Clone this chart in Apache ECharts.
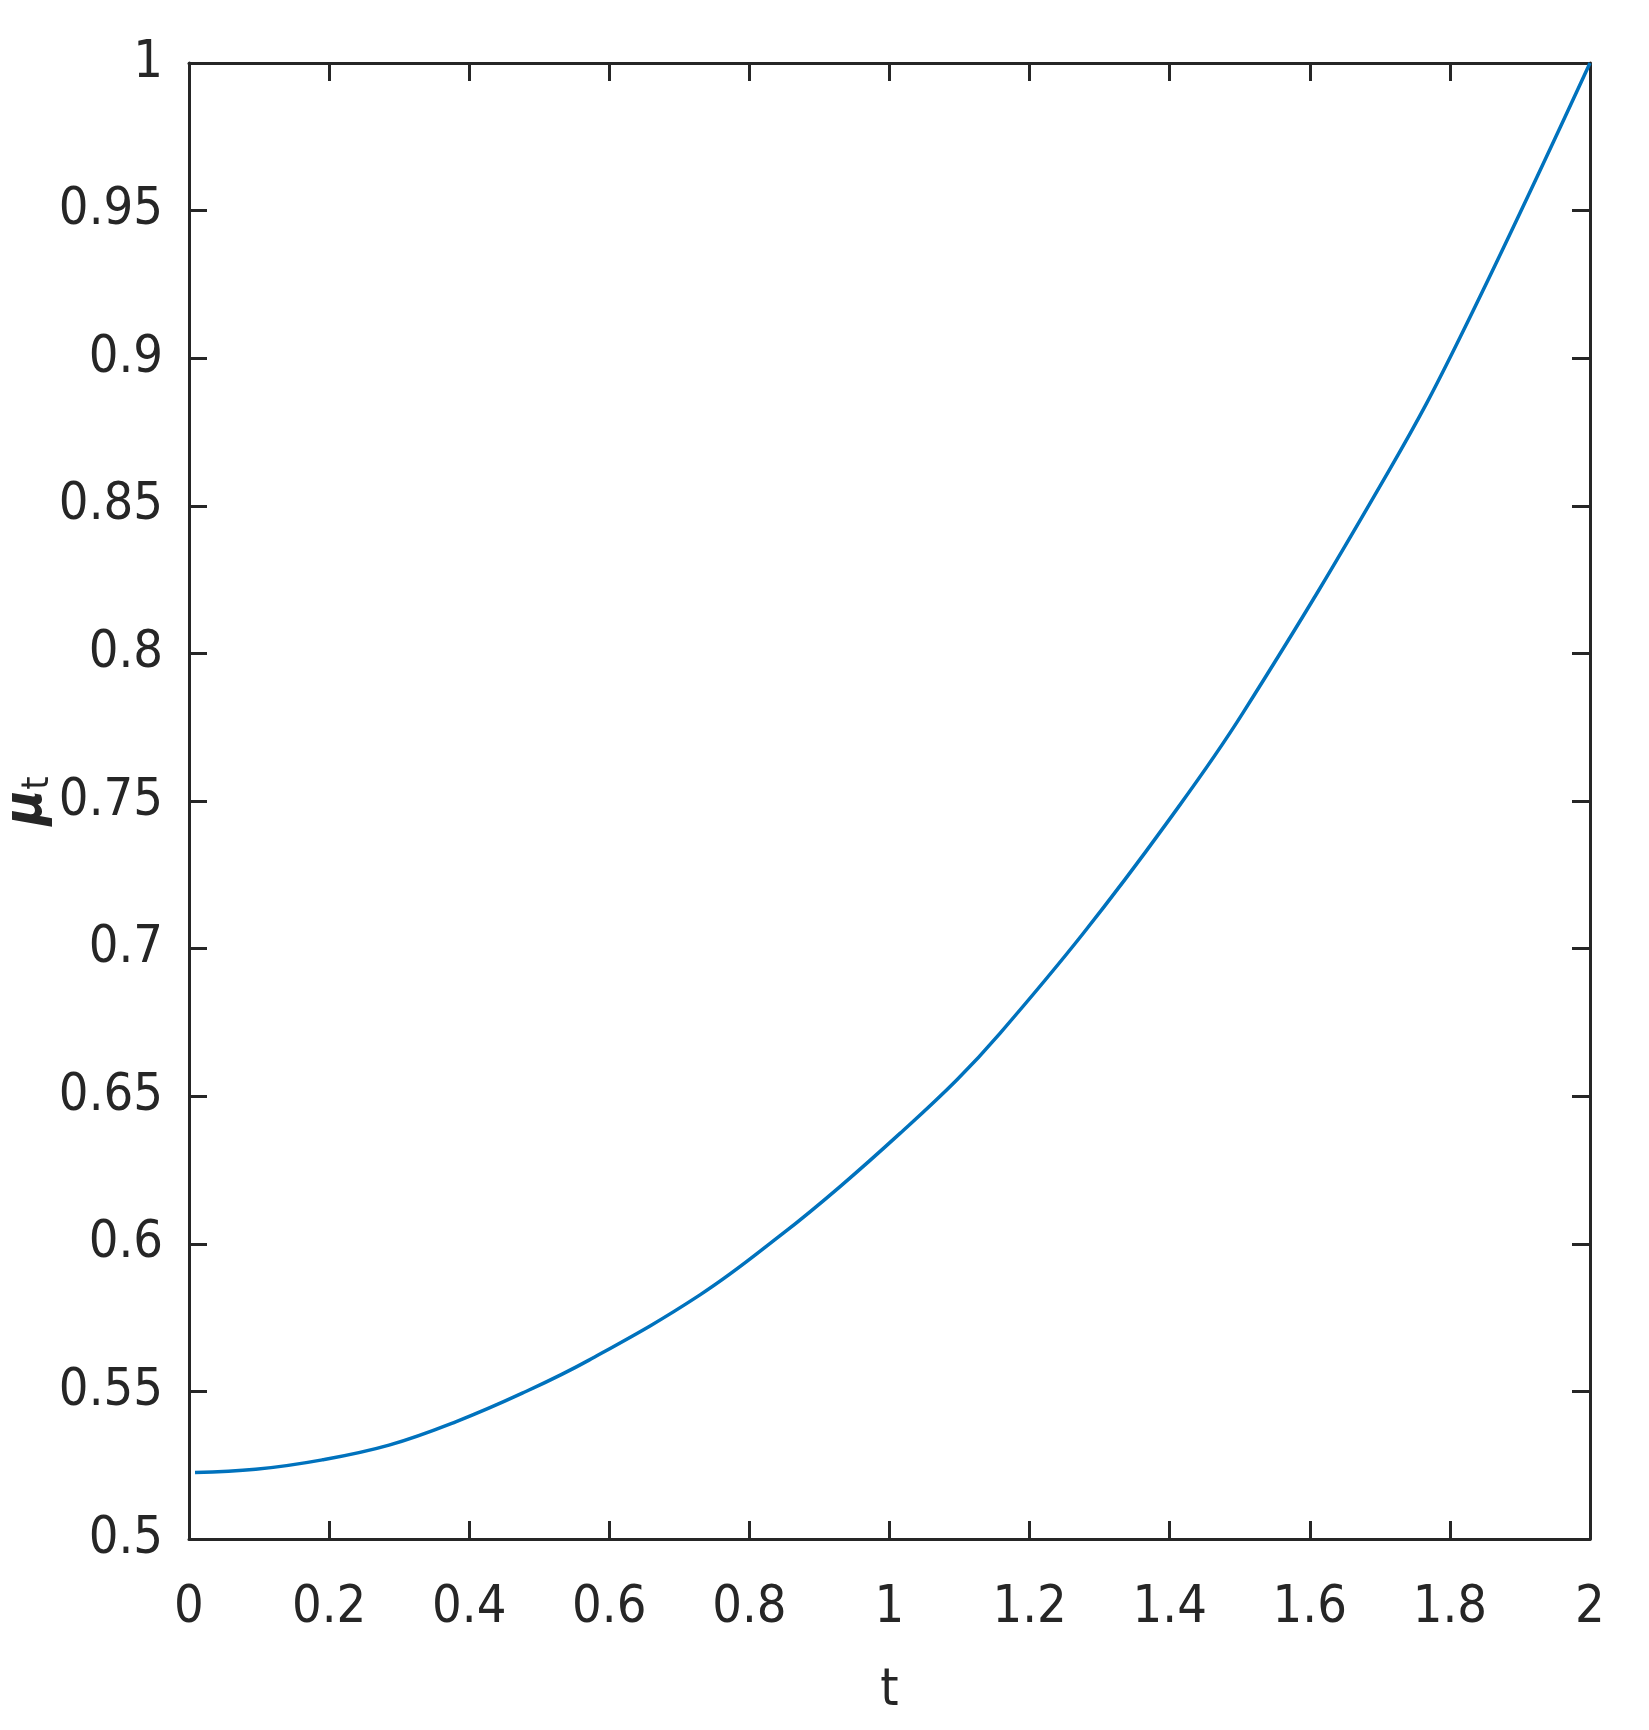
<!DOCTYPE html>
<html>
<head>
<meta charset="utf-8">
<script src="https://cdn.jsdelivr.net/npm/echarts@6/dist/echarts.min.js"></script>
<style>
html,body{margin:0;padding:0;background:#fff;}
#chart{width:1649px;height:1730px;}
</style>
</head>
<body>
<div id="chart"></div>
<script>
// values
const tValues  = [0.0086, 0.0952, 0.1903, 0.2855, 0.3807, 0.4758, 0.571, 0.7295, 0.8484, 0.929, 1.015, 1.096, 1.1577, 1.2767, 1.3957, 1.505, 1.7145, 1.8144, 2.0];
const muValues = [0.5225, 0.5236, 0.5268, 0.5318, 0.5397, 0.5494, 0.5606, 0.5827, 0.6036, 0.6193, 0.6374, 0.6555, 0.6713, 0.7052, 0.7425, 0.7800, 0.8625, 0.9070, 1.0];
const xTicks = [0, 0.2, 0.4, 0.6, 0.8, 1, 1.2, 1.4, 1.6, 1.8, 2];
const yTicks = [0.5, 0.55, 0.6, 0.65, 0.7, 0.75, 0.8, 0.85, 0.9, 0.95, 1];

const FONT = '"Liberation Sans Narrow", "DejaVu Sans Condensed", "Liberation Sans", sans-serif';
const INK = '#262626';

const chart = echarts.init(document.getElementById('chart'), null, {renderer: 'canvas'});
const axisLine = {show: true, onZero: false, lineStyle: {color: INK, width: 3}};
const axisTick = {show: true, inside: true, length: 18, lineStyle: {color: INK, width: 3}};

chart.setOption({
  animation: false,
  backgroundColor: '#fff',
  grid: {left: 189, top: 63, right: 59, bottom: 191, containLabel: false, outerBoundsMode: 'none'},
  xAxis: [{
    type: 'value', min: xTicks[0], max: xTicks[xTicks.length - 1], interval: 0.2,
    position: 'bottom',
    axisLine: axisLine, axisTick: axisTick, splitLine: {show: false},
    axisLabel: {color: INK, fontFamily: FONT, fontSize: 52, margin: 43,
      formatter: v => String(+v.toFixed(2))},
    name: 't', nameLocation: 'middle', nameGap: 126, nameMoveOverlap: false,
    nameTextStyle: {color: INK, fontFamily: FONT, fontSize: 52}
  }, {
    type: 'value', min: xTicks[0], max: xTicks[xTicks.length - 1], interval: 0.2,
    position: 'top',
    axisLine: axisLine, axisTick: axisTick, splitLine: {show: false},
    axisLabel: {show: false}
  }],
  yAxis: [{
    type: 'value', min: yTicks[0], max: yTicks[yTicks.length - 1], interval: 0.05,
    position: 'left',
    axisLine: axisLine, axisTick: axisTick, splitLine: {show: false},
    axisLabel: {color: INK, fontFamily: FONT, fontSize: 52, margin: 26,
      formatter: v => String(+v.toFixed(2))},
    name: '{mu|μ}{sub|t}', nameLocation: 'middle', nameGap: 132, nameMoveOverlap: false,
    nameTextStyle: {
      rich: {
        mu: {fontFamily: FONT, fontSize: 54, fontWeight: 'bold', fontStyle: 'italic', color: INK},
        sub: {fontFamily: FONT, fontSize: 38, color: INK, padding: [22, 0, 0, 0]}
      }
    }
  }, {
    type: 'value', min: yTicks[0], max: yTicks[yTicks.length - 1], interval: 0.05,
    position: 'right',
    axisLine: axisLine, axisTick: axisTick, splitLine: {show: false},
    axisLabel: {show: false}
  }],
  series: [{
    type: 'line',
    xAxisIndex: 0, yAxisIndex: 0,
    data: tValues.map((t, i) => [t, muValues[i]]),
    showSymbol: false,
    smooth: 0.4,
    lineStyle: {color: '#0072BD', width: 3.5},
    clip: true
  }]
});
</script>
</body>
</html>
